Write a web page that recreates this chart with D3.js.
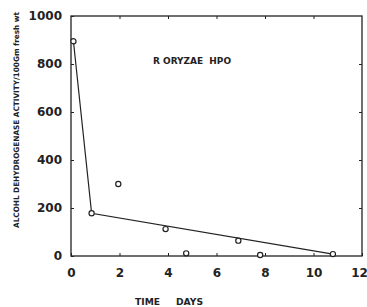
<!DOCTYPE html>
<html>
<head>
<meta charset="utf-8">
<script src="https://cdn.jsdelivr.net/npm/d3@7"></script>
<style>
  body { margin: 0; background: #fff; }
  svg { display: block; }
</style>
</head>
<body>
<div id="chart"></div>
<script>
// data
var days = [0.1, 0.85, 1.95, 3.9, 4.75, 6.9, 7.8, 10.8];
var activity = [895, 178, 300, 112, 11, 64, 4, 8];
// points joined by the drawn line (index into arrays above)
var lineIdx = [0, 1, 7];
var xTicks = [0, 2, 4, 6, 8, 10, 12];
var yTicks = [0, 200, 400, 600, 800, 1000];

var svgWidth = 367;
var svgHeight = 307;
var margin = { top: 16, right: 5, bottom: 51, left: 71 };
var width = svgWidth - margin.left - margin.right;
var height = svgHeight - margin.top - margin.bottom;

var svg = d3.select("#chart")
  .append("svg")
  .attr("width", svgWidth)
  .attr("height", svgHeight);

var g = svg.append("g")
  .attr("transform", "translate(" + margin.left + "," + margin.top + ")");

var x = d3.scaleLinear().domain([0, 12]).range([0, width]);
var y = d3.scaleLinear().domain([0, 1000]).range([height, 0]);

var ink = "#222";
var font = "DejaVu Sans";

// frame
g.append("rect")
  .attr("width", width)
  .attr("height", height)
  .attr("fill", "none")
  .attr("stroke", ink)
  .attr("stroke-width", 1.3);

// axes with inward ticks
var axBottom = g.append("g")
  .attr("transform", "translate(0," + height + ")")
  .call(d3.axisBottom(x).tickValues(xTicks).tickSize(-3).tickPadding(12).tickFormat(d3.format("d")));
var axTop = g.append("g")
  .call(d3.axisTop(x).tickValues(xTicks.slice(1, -1)).tickSize(-3).tickFormat(""));
var axLeft = g.append("g")
  .call(d3.axisLeft(y).tickValues(yTicks).tickSize(-3).tickPadding(9).tickFormat(d3.format("d")));
var axRight = g.append("g")
  .attr("transform", "translate(" + width + ",0)")
  .call(d3.axisRight(y).tickValues(yTicks.slice(1, -1)).tickSize(-3).tickFormat(""));

[axBottom, axTop, axLeft, axRight].forEach(function(a) {
  a.select(".domain").remove();
  a.selectAll(".tick line").attr("stroke", ink).attr("stroke-width", 1);
  a.selectAll("text")
    .attr("fill", ink)
    .style("font-family", font)
    .style("font-weight", "bold")
    .style("font-size", "12px");
});
// keep "12" inside the window
axBottom.selectAll(".tick text").filter(function(d) { return d === 12; }).attr("dx", -3);

// line
var line = d3.line()
  .x(function(i) { return x(days[i]); })
  .y(function(i) { return y(activity[i]); });

g.append("path")
  .datum(lineIdx)
  .attr("d", line)
  .attr("fill", "none")
  .attr("stroke", ink)
  .attr("stroke-width", 1.2);

// points
g.selectAll("circle")
  .data(days)
  .enter()
  .append("circle")
  .attr("cx", function(d) { return x(d); })
  .attr("cy", function(d, i) { return y(activity[i]); })
  .attr("r", 2.6)
  .attr("fill", "#fff")
  .attr("stroke", ink)
  .attr("stroke-width", 1.2);

// title inside plot
svg.append("text")
  .attr("x", 192)
  .attr("y", 64)
  .attr("text-anchor", "middle")
  .attr("textLength", 78)
  .attr("lengthAdjust", "spacingAndGlyphs")
  .style("font-family", font)
  .style("font-weight", "bold")
  .style("font-size", "9px")
  .style("white-space", "pre")
  .attr("fill", ink)
  .text("R ORYZAE  HPO");

// x label
svg.append("text")
  .attr("x", 169)
  .attr("y", 305)
  .attr("text-anchor", "middle")
  .attr("textLength", 68)
  .attr("lengthAdjust", "spacingAndGlyphs")
  .style("font-family", font)
  .style("font-weight", "bold")
  .style("font-size", "8.5px")
  .style("white-space", "pre")
  .attr("fill", ink)
  .text("TIME     DAYS");

// y label
svg.append("text")
  .attr("transform", "translate(19,120) rotate(-90)")
  .attr("text-anchor", "middle")
  .attr("textLength", 216)
  .attr("lengthAdjust", "spacingAndGlyphs")
  .style("font-family", font)
  .style("font-weight", "bold")
  .style("font-size", "7.5px")
  .attr("fill", ink)
  .text("ALCOHL DEHYDROGENASE ACTIVITY/100Gm fresh wt");
</script>
</body>
</html>
